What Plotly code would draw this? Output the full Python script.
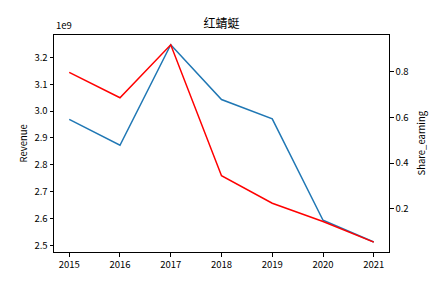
import plotly.graph_objects as go

years = [2015, 2016, 2017, 2018, 2019, 2020, 2021]
revenue = [2.969e9, 2.873e9, 3.247e9, 3.043e9, 2.971e9, 2.594e9, 2.513e9]
share_earning = [0.796, 0.685, 0.916, 0.345, 0.225, 0.145, 0.055]
left_ticks = [2.5e9, 2.6e9, 2.7e9, 2.8e9, 2.9e9, 3.0e9, 3.1e9, 3.2e9]
left_ticktext = ["2.5", "2.6", "2.7", "2.8", "2.9", "3.0", "3.1", "3.2"]
right_ticks = [0.2, 0.4, 0.6, 0.8]
right_ticktext = ["0.2", "0.4", "0.6", "0.8"]
title = "红蜻蜓"

FONT = "Noto Sans CJK SC, DejaVu Sans, sans-serif"

fig = go.Figure()
fig.add_trace(go.Scatter(x=years, y=revenue, mode="lines",
                         line=dict(color="#1f77b4", width=1.5), yaxis="y"))
fig.add_trace(go.Scatter(x=years, y=share_earning, mode="lines",
                         line=dict(color="#ff0000", width=1.5), yaxis="y2"))

axis_common = dict(showgrid=False, zeroline=False, showline=True, linecolor="black",
                   linewidth=1, ticks="outside", ticklen=3.5, tickwidth=1,
                   tickcolor="black", tickfont=dict(family=FONT, size=9.5, color="black"))

fig.update_layout(
    width=432, height=288,
    margin=dict(l=54, r=43, t=35, b=36),
    paper_bgcolor="white", plot_bgcolor="white",
    showlegend=False,
    font=dict(family=FONT, color="black"),
    title=dict(text=title, x=0.5128, xanchor="center", y=1 - 24 / 288, yanchor="middle",
               font=dict(family=FONT, size=12, color="black")),
    xaxis=dict(range=[2014.7, 2021.3], tickvals=years, mirror=True, **axis_common),
    yaxis=dict(range=[2.476e9, 3.283e9], tickvals=left_ticks, ticktext=left_ticktext,
               **axis_common),
    yaxis2=dict(range=[0.012, 0.959], tickvals=right_ticks, ticktext=right_ticktext,
                overlaying="y", side="right", **axis_common),
    annotations=[
        dict(text="1e9", x=0, y=1, xref="paper", yref="paper", xanchor="left",
             yanchor="bottom", yshift=1, showarrow=False,
             font=dict(family=FONT, size=9.5, color="black")),
        dict(text="Revenue", x=22 / 432, y=0.5, xref="paper", yref="paper",
             xanchor="center", yanchor="middle", textangle=-90, showarrow=False,
             font=dict(family=FONT, size=9.5, color="black")),
        dict(text="Share_earning", x=420 / 432, y=0.5, xref="paper", yref="paper",
             xanchor="center", yanchor="middle", textangle=-90, showarrow=False,
             font=dict(family=FONT, size=9.5, color="black")),
    ],
)
# annotation x positions use paper coords relative to plot area; convert
pw = 432 - 54 - 43
fig.layout.annotations[1].x = (22 - 54) / pw
fig.layout.annotations[2].x = (420 - 54) / pw

fig.write_html("out.html")
